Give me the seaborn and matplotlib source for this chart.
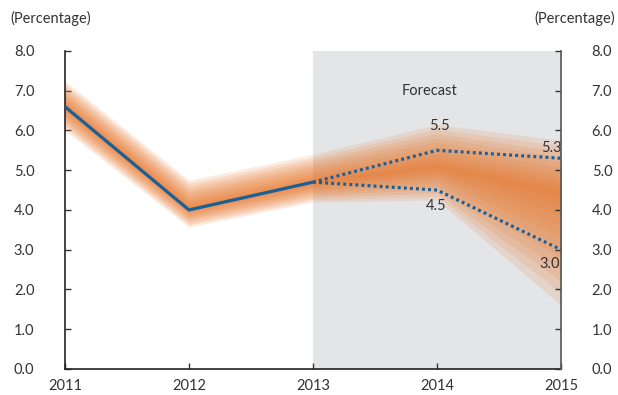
import matplotlib
matplotlib.use("Agg")
import matplotlib.pyplot as plt
import numpy as np
import pandas as pd
import seaborn as sns

# Historical growth (solid line)
hist_years = [2011, 2012, 2013]
hist_values = [6.6, 4.0, 4.7]

# Forecast scenarios (dotted lines)
fc_years = [2013, 2014, 2015]
fc_high = [4.7, 5.5, 5.3]
fc_low = [4.7, 4.5, 3.0]

# Fan chart: central path and outer bounds
fan_years = [2011, 2012, 2013, 2014, 2015]
fan_mid = [6.6, 4.05, 4.7, 5.1, 4.45]
fan_upper = [7.25, 4.75, 5.4, 6.15, 5.75]
fan_lower = [6.0, 3.57, 4.2, 4.25, 1.6]

y_ticks = [0.0, 1.0, 2.0, 3.0, 4.0, 5.0, 6.0, 7.0, 8.0]
x_ticks = [2011, 2012, 2013, 2014, 2015]

sns.set_theme(style="white")
plt.rcParams["font.family"] = ["Lato", "DejaVu Sans"]

BLUE = "#1B5F97"
ORANGE = "#E9772C"
TEXT = "#333333"
FS = 10.5

fig = plt.figure(figsize=(6.18, 3.95), dpi=100)
ax = fig.add_axes([0.105, 0.066, 0.803, 0.805])

# Forecast period background
ax.axvspan(2013, 2015, color="#E4E5E7", lw=0, zorder=0)

# Nested fan bands, lighter towards the outside
n_bands = 11
mid = np.array(fan_mid)
up = np.array(fan_upper)
lo = np.array(fan_lower)
for k in range(n_bands, 0, -1):
    f = (k / n_bands) ** 1.2
    ax.fill_between(fan_years, mid + f * (up - mid), mid - f * (mid - lo),
                    color=ORANGE, alpha=0.14, lw=0, zorder=1)

hist_df = pd.DataFrame({"year": hist_years, "value": hist_values})
high_df = pd.DataFrame({"year": fc_years, "value": fc_high})
low_df = pd.DataFrame({"year": fc_years, "value": fc_low})

sns.lineplot(data=hist_df, x="year", y="value", ax=ax, color=BLUE, lw=2.3,
             zorder=4, solid_capstyle="butt")
for df in (high_df, low_df):
    sns.lineplot(data=df, x="year", y="value", ax=ax, color=BLUE, lw=2.3,
                 linestyle=(0, (0.9, 1.0)), zorder=3, dash_capstyle="butt")

# Value labels on the scenario paths
lab_kw = dict(fontsize=FS, color=TEXT, zorder=5, ha="center", va="center")
ax.text(2014.02, fc_high[1] + 0.6, f"{fc_high[1]:.1f}", **lab_kw)
ax.text(2013.99, fc_low[1] - 0.4, f"{fc_low[1]:.1f}", **lab_kw)
ax.text(2014.92, fc_high[2] + 0.27, f"{fc_high[2]:.1f}", **lab_kw)
ax.text(2014.91, fc_low[2] - 0.36, f"{fc_low[2]:.1f}", **lab_kw)
ax.text(2013.94, 7.0, "Forecast", **lab_kw)

ax.set_xlim(2011, 2015)
ax.set_ylim(0, 8)
ax.set_xticks(x_ticks)
ax.set_xticklabels([str(y) for y in x_ticks])
ax.set_yticks(y_ticks)
ax.set_yticklabels([f"{v:.1f}" for v in y_ticks])
ax.set_xlabel("")
ax.set_ylabel("")

ax.tick_params(axis="both", direction="in", length=4, width=1, colors=TEXT,
               labelsize=FS)
ax.tick_params(axis="y", left=True, right=False, labelleft=True, labelright=False, pad=22)
ax.tick_params(axis="x", bottom=True, pad=7)

# Right-hand scale mirrors the left
ax2 = ax.twinx()
ax2.set_ylim(0, 8)
ax2.set_yticks(y_ticks)
ax2.set_yticklabels([f"{v:.1f}" for v in y_ticks])
ax2.tick_params(axis="y", direction="in", length=4, width=1, colors=TEXT,
                labelsize=FS, pad=22)
ax2.grid(False)
for s in ("left", "top", "bottom"):
    ax2.spines[s].set_visible(False)
ax2.spines["right"].set_visible(True)
ax2.spines["right"].set_color("#555555")
ax2.spines["right"].set_linewidth(1.2)

for side in ("left", "bottom"):
    ax.spines[side].set_visible(True)
    ax.spines[side].set_color("#222222")
    ax.spines[side].set_linewidth(1.2)
ax.spines["right"].set_visible(False)
ax.spines["top"].set_visible(False)

fig.text(0.016, 0.952, "(Percentage)", fontsize=FS, color=TEXT, ha="left", va="center")
fig.text(0.995, 0.952, "(Percentage)", fontsize=FS, color=TEXT, ha="right", va="center")

fig.savefig("out.png", dpi=100)
